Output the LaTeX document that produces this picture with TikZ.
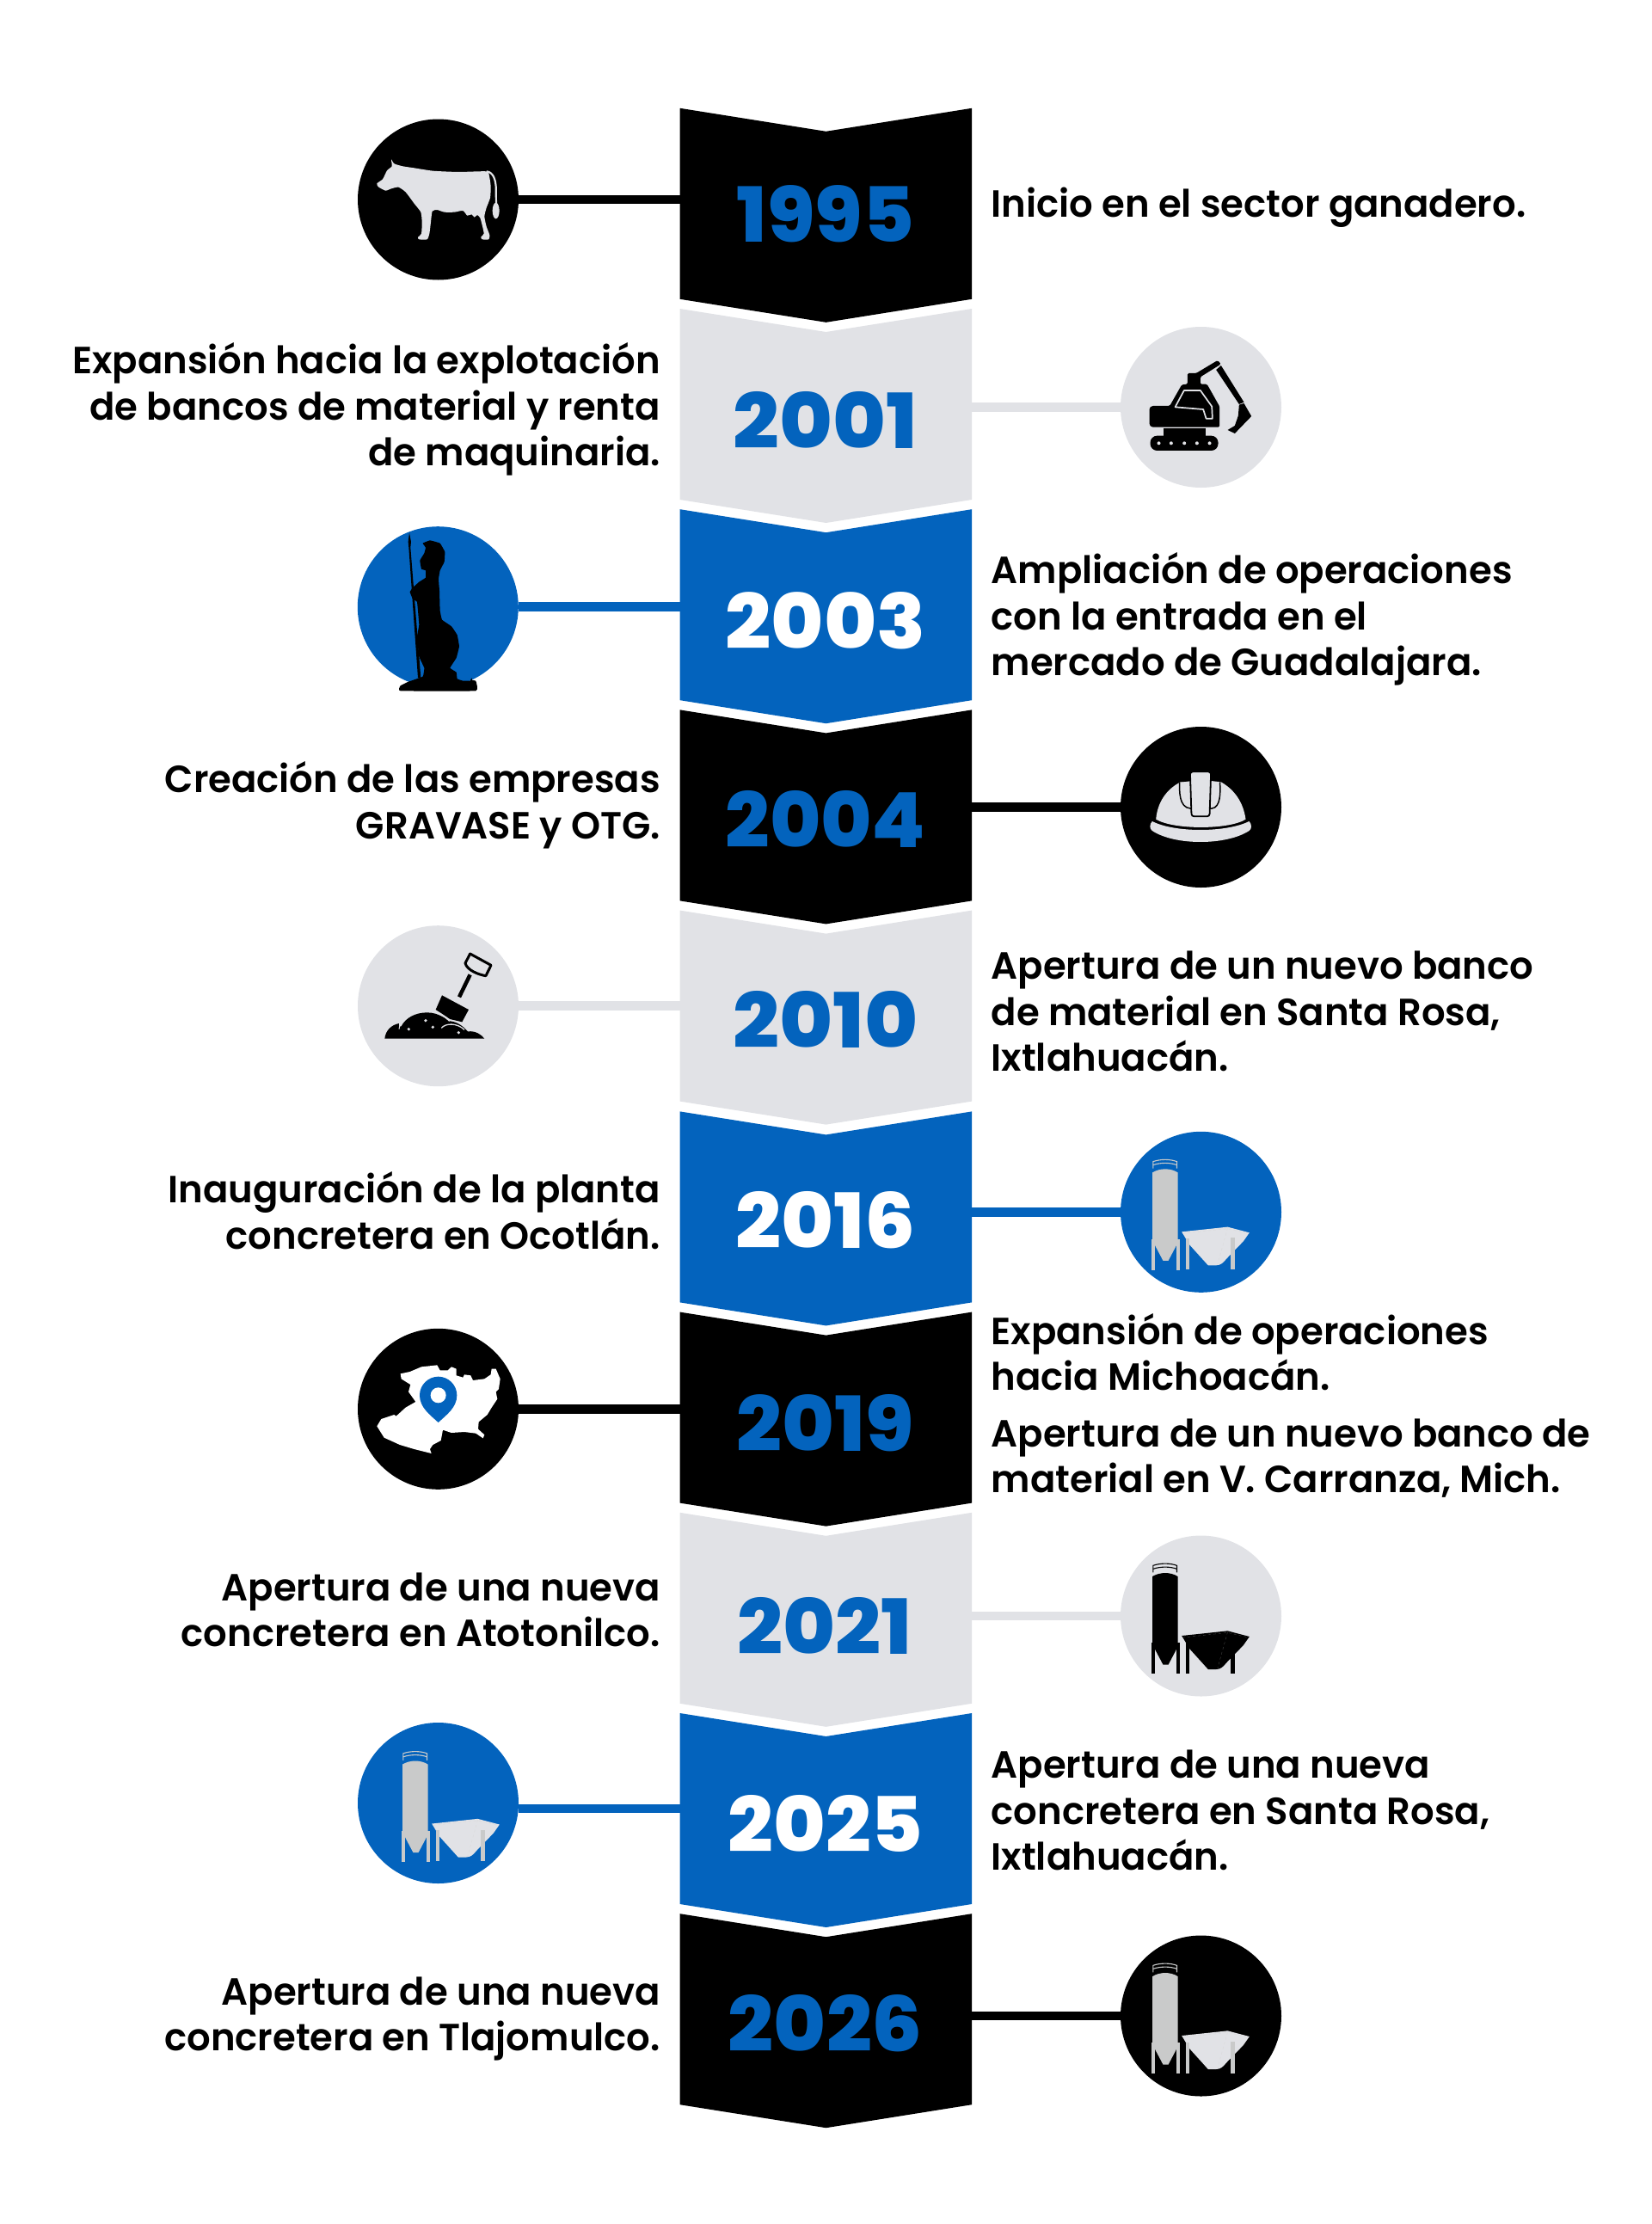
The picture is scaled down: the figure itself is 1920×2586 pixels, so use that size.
\documentclass[tikz,border=0pt]{standalone}
\usepackage{fontspec}
\usepackage{graphicx}
\newfontfamily\bodyf[FakeStretch=0.985]{Poppins SemiBold}
\newfontfamily\yearf{Poppins ExtraBold}
\definecolor{cblue}{RGB}{3,99,189}
\definecolor{cgray}{RGB}{225,226,230}
\definecolor{cgrayb}{RGB}{201,202,202}
\newcommand\yr[2]{\resizebox{#1pt}{66pt}{\yearf #2}}
\newcommand\chev[2]{\fill[#1] (790.7,#2) -- (960.5,#2+27) -- (1130,#2) -- (1130,#2+222) -- (960.5,#2+249) -- (790.7,#2+222) -- cycle;}
\tikzset{
 iconcirc/.style={circle,minimum size=187pt,inner sep=0pt,outer sep=0pt,fill=#1},
 conn/.style={line width=10.5pt,draw=#1},
 ltext/.style={anchor=north east,align=right,inner sep=0pt,font=\bodyf\fontsize{44}{53.4}\selectfont},
 rtext/.style={anchor=north west,align=left,inner sep=0pt,font=\bodyf\fontsize{44}{53.4}\selectfont},
 yearnode/.style={anchor=base,inner sep=0pt,text=#1},
 zoomunits/.style={x=0.3333pt,y=-0.3333pt},
 pics/silo/.style args={#1/#2/#3}{code={
  \begin{scope}[zoomunits,shift={(-322,-298)}]
   \draw[#1,line width=1.1pt] (155,146) -- (155,122) .. controls (180,113) and (215,113) .. (238,122) -- (238,146);
   \draw[#1,line width=1.1pt] (155,134) .. controls (180,125) and (215,125) .. (238,134);
   \fill[#1] (153,160) .. controls (180,144) and (215,144) .. (241,160) -- (241,395) -- (236,415) -- (208,468) -- (190,468) -- (162,415) -- (153,395) -- cycle;
   \fill[#1] (150,392) rectangle (162,500);
   \fill[#1] (235,392) rectangle (247,500);
   \fill[#2] (255,367) -- (415,350) -- (491,370) -- (470,400) -- (410,462) .. controls (400,475) and (390,484) .. (375,484) -- (347,484) -- (282,412) -- cycle;
   \draw[#3,line width=0.35pt,dashed] (258,373) -- (415,356) -- (488,373);
   \draw[#3,line width=0.35pt,dashed] (415,354) -- (380,480);
   \fill[#1] (269,390) rectangle (281,498);
   \fill[#1] (426,388) rectangle (439,498);
  \end{scope}
 }}
}
\begin{document}
\begin{tikzpicture}[x=1pt,y=-1pt]
\useasboundingbox (0,0) rectangle (1920,2586);
\chev{black}{125.8}
\chev{cgray}{359}
\chev{cblue}{592.2}
\chev{black}{825.4}
\chev{cgray}{1058.6}
\chev{cblue}{1292.4}
\chev{black}{1525.6}
\chev{cgray}{1758.8}
\chev{cblue}{1992}
\chev{black}{2225.2}
\foreach \n/\yy in {1995/232,2001/473.5,2003/705.7,2004/938.5,2010/1169.7,2016/1409.3,2019/1638.3,2021/1879,2025/2103,2026/2344}{
  \coordinate (le\n) at (790.7,\yy);
  \coordinate (re\n) at (1130,\yy);
}
% icon discs
\node[iconcirc=black] (c1995) at (509.5,232) {};
\node[iconcirc=cgray] (c2001) at (1396.5,473.5) {};
\node[iconcirc=cblue] (c2003) at (509.3,705.7) {};
\node[iconcirc=black] (c2004) at (1396.5,938.5) {};
\node[iconcirc=cgray] (c2010) at (509.5,1169.7) {};
\node[iconcirc=cblue] (c2016) at (1396.5,1409.3) {};
\node[iconcirc=black] (c2019) at (509.5,1638.3) {};
\node[iconcirc=cgray] (c2021) at (1396.5,1879) {};
\node[iconcirc=cblue] (c2025) at (509.5,2096.5) {};
\node[iconcirc=black] (c2026) at (1396.5,2344) {};
% connectors
\draw[conn=black] (c1995.east) -- (le1995);
\draw[conn=cgray] (re2001) -- (c2001.west);
\draw[conn=cblue] (c2003.east) -- (le2003);
\draw[conn=black] (re2004) -- (c2004.west);
\draw[conn=cgray] (c2010.east) -- (le2010);
\draw[conn=cblue] (re2016) -- (c2016.west);
\draw[conn=black] (c2019.east) -- (le2019);
\draw[conn=cgray] (re2021) -- (c2021.west);
\draw[conn=cblue] (c2025.east |- le2025) -- (le2025);
\draw[conn=black] (re2026) -- (c2026.west);
% years
\node[yearnode=cblue] (y1995) at (960,281) {\yr{206}{1995}};
\node[yearnode=cblue] (y2001) at (960,521) {\yr{214}{2001}};
\node[yearnode=white] (y2003) at (960,754) {\yr{233}{2003}};
\node[yearnode=cblue] (y2004) at (960,985) {\yr{233}{2004}};
\node[yearnode=cblue] (y2010) at (960,1218) {\yr{215}{2010}};
\node[yearnode=white] (y2016) at (960,1451) {\yr{209}{2016}};
\node[yearnode=cblue] (y2019) at (960,1687) {\yr{206}{2019}};
\node[yearnode=cblue] (y2021) at (959,1923) {\yr{203}{2021}};
\node[yearnode=white] (y2025) at (960,2153) {\yr{227}{2025}};
\node[yearnode=cblue] (y2026) at (960,2385) {\yr{226}{2026}};
% texts
\node[rtext] (t1995) at (1152.5,218) {Inicio en el sector ganadero.};
\node[ltext] (t2001) at (768,398.5) {Expansión hacia la explotación\\de bancos de material y renta\\de maquinaria.};
\node[rtext] (t2003) at (1152.5,642.5) {Ampliación de operaciones\\con la entrada en el\\mercado de Guadalajara.};
\node[ltext] (t2004) at (768,885.5) {Creación de las empresas\\GRAVASE y OTG.};
\node[rtext] (t2010) at (1152.5,1106) {Apertura de un nuevo banco\\de material en Santa Rosa,\\Ixtlahuacán.};
\node[ltext] (t2016) at (768,1362.5) {Inauguración de la planta\\concretera en Ocotlán.};
\node[rtext] (t2019a) at (1152.5,1527) {Expansión de operaciones\\hacia Michoacán.};
\node[rtext] (t2019b) at (1152.5,1649.5) {Apertura de un nuevo banco de\\material en V. Carranza, Mich.};
\node[ltext] (t2021) at (768,1828.5) {Apertura de una nueva\\concretera en Atotonilco.};
\node[rtext] (t2025) at (1152.5,2035) {Apertura de una nueva\\concretera en Santa Rosa,\\Ixtlahuacán.};
\node[ltext] (t2026) at (768,2298.5) {Apertura de una nueva\\concretera en Tlajomulco.};
% cow
\begin{scope}[shift={(400,130)},zoomunits]
 \fill[cgray] plot[smooth cycle,tension=0.35] coordinates {(165,166) (175,181) (205,190) (245,196) (310,206) (400,210) (497,208) (507,225) (512,260) (510,300) (497,335) (490,365) (497,400) (508,430) (505,445) (482,445) (478,437) (488,425) (482,395) (475,370) (465,360) (455,368) (445,358) (430,362) (415,345) (385,350) (350,350) (325,342) (308,347) (303,385) (298,425) (290,445) (262,445) (258,438) (270,425) (272,385) (268,350) (245,320) (215,280) (190,263) (165,268) (145,275) (120,262) (115,250) (135,235) (150,205) (167,190)};
 \draw[cgray,line width=2.2pt] (497,208) .. controls (520,210) and (528,235) .. (530,260) -- (531,325);
 \fill[cgray] (530,345) ellipse [x radius=12,y radius=28];
\end{scope}
% statue
\begin{scope}[shift={(400,600)},zoomunits]
 \fill[black] (228,58) -- (234,90) -- (232,110) -- (268,565) -- (258,565) -- (226,110) -- (224,90) -- cycle;
 \fill[black] plot[smooth cycle,tension=0.15] coordinates {(275,95) (300,85) (335,95) (352,125) (350,160) (335,190) (330,220) (333,260) (335,330) (342,362) (375,385) (395,415) (402,455) (392,495) (370,530) (392,545) (395,568) (415,575) (440,575) (445,565) (448,573) (460,575) (460,610) (197,610) (197,592) (225,578) (275,560) (280,530) (262,490) (255,420) (262,380) (255,300) (240,290) (230,265) (240,250) (262,230) (285,215) (285,190) (270,185) (265,155) (280,130) (285,110)};
\end{scope}
% excavator
\begin{scope}[shift={(1289.2,370)},zoomunits]
 \fill[black,rounded corners=8pt] (145,410) rectangle (382,462);
 \foreach \hx in {175,218,264,308,352}{\fill[cgray] (\hx,436) circle [radius=6];}
 \fill[black] (192,385) rectangle (337,415);
 \fill[black,rounded corners=1.5pt] (150,306) -- (213,306) -- (255,232) -- (275,230) -- (275,192) -- (305,192) -- (380,147) -- (392,160) -- (320,205) -- (320,230) -- (343,230) -- (387,308) -- (387,380) -- (150,380) -- (142,372) -- (142,314) -- cycle;
 \draw[cgray,line width=1.7pt,line join=round] (263,252) -- (320,252) -- (360,308) -- (362,350) -- (340,350) -- (330,318) -- (232,310) -- cycle;
 \fill[black] (375,180) -- (392,165) -- (472,293) -- (455,300) -- cycle;
 \fill[black] (455,302) -- (472,297) -- (498,342) -- (440,402) -- (415,390) -- (440,375) -- (452,340) -- cycle;
\end{scope}
% helmet
\begin{scope}[shift={(1289.2,840)},zoomunits]
 \fill[cgray] (165,338) .. controls (170,280) and (200,235) .. (247,210) -- (320,200) -- (392,208) .. controls (440,235) and (470,280) .. (478,338) .. controls (420,375) and (225,375) .. (165,338) -- cycle;
 \draw[black,fill=cgray,line width=1.5pt] (247,208) .. controls (247,240) and (245,297) .. (285,300) -- (360,300) .. controls (392,297) and (390,240) .. (388,208);
 \draw[black,fill=cgray,line width=1.8pt,rounded corners=3pt] (284,172) -- (357,172) -- (352,328) -- (289,328) -- cycle;
 \fill[cgray] (152,345) .. controls (230,385) and (410,385) .. (490,345) .. controls (500,355) and (500,372) .. (490,378) .. controls (410,430) and (230,430) .. (152,378) .. controls (142,372) and (142,355) .. (152,345) -- cycle;
\end{scope}
% shovel
\begin{scope}[shift={(400,1070)},zoomunits]
 \draw[black,line width=3pt,line join=round] (440,117) -- (513,157) -- (495,194) .. controls (470,190) and (430,175) .. (423,150) -- cycle;
 \draw[black,line width=4.5pt] (440,190) -- (402,268);
 \fill[black] (342,262) -- (435,312) -- (412,355) -- (370,345) -- (345,328) -- (320,312) -- cycle;
 \fill[black] (142,413) .. controls (145,385) and (165,365) .. (192,360) .. controls (190,370) and (195,375) .. (200,370) .. controls (215,340) and (250,322) .. (290,322) .. controls (330,322) and (355,345) .. (370,352) .. controls (400,355) and (420,375) .. (432,388) .. controls (460,385) and (480,400) .. (490,413) -- cycle;
 \draw[cgray,line width=1.3pt] (322,322) .. controls (345,328) and (360,345) .. (368,352);
 \draw[cgray,line width=1.3pt] (340,376) .. controls (355,358) and (395,358) .. (420,382);
 \draw[cgray,line width=1pt] (192,380) .. controls (192,372) and (195,368) .. (200,362);
 \foreach \dx/\dy in {285/350,226/380,310/373,400/392}{\fill[cgray] (\dx,\dy) circle [radius=5.5];}
\end{scope}
% silos
\pic at (1396.5,1409.3) {silo={cgrayb/cgray/black!15}};
\pic at (1396.5,1879) {silo={black/black/black!70}};
\pic at (524.5,2097.5) {silo={cgrayb/cgray/black!15}};
\pic at (1396.5,2344) {silo={cgrayb/cgray/black!15}};
% map
\begin{scope}[shift={(400,1540)},zoomunits]
 \fill[white] (197,172) -- (230,165) -- (270,148) -- (325,142) -- (335,160) -- (362,160) -- (375,148) -- (392,155) -- (392,178) -- (415,185) -- (420,175) -- (442,178) -- (450,195) -- (490,190) -- (512,175) -- (515,155) -- (530,155) -- (545,190) -- (540,225) -- (530,235) -- (535,260) -- (515,290) -- (500,315) -- (470,340) -- (468,365) -- (490,385) -- (485,397) -- (460,380) -- (420,375) -- (375,378) -- (345,368) -- (338,405) -- (310,420) -- (300,435) -- (305,450) -- (245,435) -- (195,420) -- (140,395) -- (115,355) -- (130,330) -- (175,315) -- (182,320) -- (215,290) -- (250,270) -- (225,235) -- (232,210) -- (200,190) -- cycle;
 \fill[cblue] (329,342) .. controls (300,315) and (264,290) .. (264,247) .. controls (264,210) and (295,182) .. (329,182) .. controls (363,182) and (394,210) .. (394,247) .. controls (394,290) and (358,315) .. (329,342) -- cycle;
 \fill[white] (329,247) circle [radius=27];
\end{scope}
\end{tikzpicture}
\end{document}
